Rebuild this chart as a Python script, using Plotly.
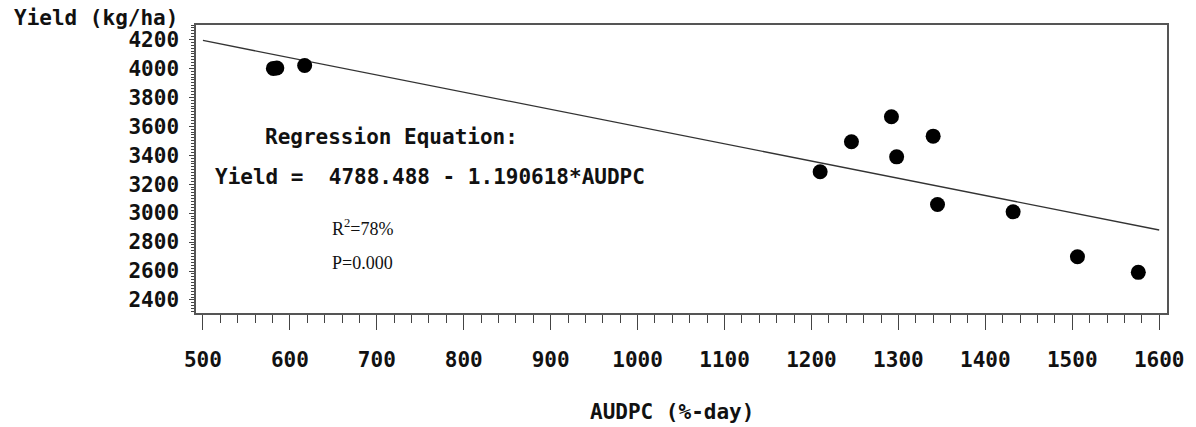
import plotly.graph_objects as go

# Data
audpc = [581, 585, 617, 1210, 1246, 1292, 1298, 1340, 1345, 1432, 1506, 1576]
yield_kg = [4000, 4003, 4020, 3286, 3493, 3666, 3389, 3532, 3060, 3009, 2699, 2591]

intercept = 4788.488
slope = -1.190618
line_x = [500, 1600]
line_y = [intercept + slope * v for v in line_x]

x_ticks = [500, 600, 700, 800, 900, 1000, 1100, 1200, 1300, 1400, 1500, 1600]
y_ticks = [2400, 2600, 2800, 3000, 3200, 3400, 3600, 3800, 4000, 4200]

MONO = "DejaVu Sans Mono"
SERIF = "Liberation Serif"

fig = go.Figure()
fig.add_trace(go.Scatter(
    x=line_x, y=line_y, mode="lines",
    line=dict(color="#333333", width=1.3), showlegend=False, hoverinfo="skip"))
fig.add_trace(go.Scatter(
    x=audpc, y=yield_kg, mode="markers",
    marker=dict(color="black", size=15, symbol="circle"), showlegend=False))

axis_common = dict(
    showgrid=False, zeroline=False, showline=True, linecolor="#555555",
    linewidth=1.5, mirror=True, ticks="outside", tickcolor="#444444",
    tickwidth=1.3,
    tickfont=dict(family=MONO, size=21, color="#111111", weight="bold"),
)

fig.update_xaxes(
    **axis_common, range=[492, 1609], tickvals=x_ticks, ticklen=15,
    ticklabelstandoff=12,
    minor=dict(dtick=20, ticks="outside", ticklen=8, tickcolor="#444444", tickwidth=1.2),
)
fig.update_yaxes(
    **axis_common, range=[2310, 4300], tickvals=y_ticks, ticklen=5,
    ticklabelstandoff=6,
    minor=dict(dtick=20, ticks="outside", ticklen=3, tickcolor="#444444", tickwidth=1),
)

ann_font = dict(family=MONO, size=21, color="#111111", weight="bold")
annotations = [
    dict(text="Yield (kg/ha)", xref="paper", yref="paper", x=-0.1895, y=1.026,
         xanchor="left", yanchor="middle", showarrow=False, font=ann_font),
    dict(text="AUDPC (%-day)", xref="paper", yref="paper", x=0.49, y=-0.344,
         xanchor="center", yanchor="middle", showarrow=False, font=ann_font),
    dict(text="Regression Equation:", xref="x", yref="y", x=569, y=3527,
         xanchor="left", yanchor="middle", showarrow=False, font=ann_font),
    dict(text="Yield =  4788.488 - 1.190618*AUDPC", xref="x", yref="y", x=512, y=3247,
         xanchor="left", yanchor="middle", showarrow=False, font=ann_font),
    dict(text="R<sup>2</sup>=78%", xref="x", yref="y", x=646, y=2902,
         xanchor="left", yanchor="middle", showarrow=False,
         font=dict(family=SERIF, size=18, color="#111111")),
    dict(text="P=0.000", xref="x", yref="y", x=646, y=2653,
         xanchor="left", yanchor="middle", showarrow=False,
         font=dict(family=SERIF, size=18, color="#111111")),
]

fig.update_layout(
    width=1196, height=427,
    margin=dict(l=196, r=29, t=25, b=114),
    paper_bgcolor="white", plot_bgcolor="white",
    annotations=annotations,
)

# Remove the page's default body margin so the figure fills the window exactly
fig.write_html("out.html",
               config={"displayModeBar": False},
               post_script="document.body.style.margin='0px';document.body.style.overflow='hidden';")
